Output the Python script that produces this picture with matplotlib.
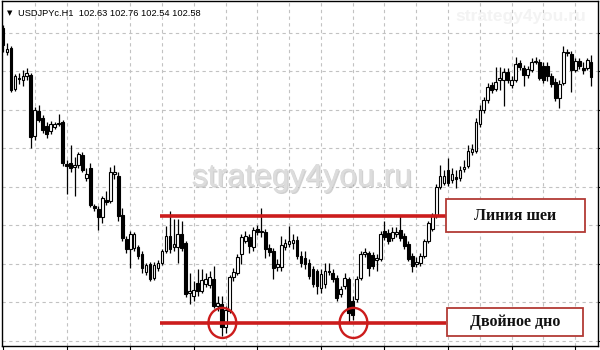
import matplotlib
matplotlib.use("Agg")
import matplotlib.pyplot as plt
import matplotlib.patches as mpatches
import matplotlib.patheffects as pe
import numpy as np

# ---------------- data (USDJPYc, H1) ----------------
opens = [102.860, 102.740, 102.760, 102.555, 102.610, 102.600, 102.620, 102.625, 102.320, 102.445,
         102.410, 102.370, 102.345, 102.365, 102.380, 102.390, 102.180, 102.185, 102.165, 102.175,
         102.225, 102.115, 102.160, 101.975, 101.960, 101.920, 102.005, 102.000, 102.135, 102.125,
         101.930, 101.810, 101.760, 101.765, 101.770, 101.735, 101.645, 101.685, 101.615, 101.665,
         101.690, 101.750, 101.825, 101.770, 101.770, 101.835, 101.790, 101.540, 101.525, 101.590,
         101.550, 101.585, 101.580, 101.610, 101.475, 101.485, 101.370, 101.450, 101.620, 101.640,
         101.735, 101.800, 101.820, 101.770, 101.860, 101.845, 101.845, 101.765, 101.750, 101.670,
         101.670, 101.770, 101.785, 101.790, 101.805, 101.725, 101.715, 101.690, 101.660, 101.650,
         101.565, 101.585, 101.650, 101.640, 101.615, 101.535, 101.575, 101.610, 101.500, 101.510,
         101.615, 101.735, 101.740, 101.730, 101.705, 101.710, 101.850, 101.840, 101.815, 101.835,
         101.855, 101.825, 101.785, 101.725, 101.685, 101.690, 101.725, 101.800, 101.860, 101.925,
         102.070, 102.090, 102.150, 102.105, 102.120, 102.115, 102.155, 102.170, 102.240, 102.245,
         102.380, 102.450, 102.500, 102.575, 102.555, 102.600, 102.600, 102.640, 102.575, 102.600,
         102.685, 102.660, 102.625, 102.650, 102.690, 102.690, 102.670, 102.670, 102.620, 102.590,
         102.510, 102.585, 102.740, 102.730, 102.650, 102.695, 102.660, 102.660, 102.690]

highs = [102.875, 102.785, 102.770, 102.630, 102.635, 102.650, 102.660, 102.635, 102.465, 102.475,
         102.425, 102.390, 102.395, 102.390, 102.430, 102.400, 102.200, 102.275, 102.215, 102.240,
         102.240, 102.160, 102.185, 101.985, 101.975, 102.025, 102.050, 102.165, 102.175, 102.140,
         101.965, 101.825, 101.850, 101.845, 101.780, 101.750, 101.690, 101.695, 101.695, 101.705,
         101.760, 101.875, 101.950, 101.910, 101.910, 101.900, 101.800, 101.640, 101.600, 101.660,
         101.660, 101.640, 101.650, 101.675, 101.525, 101.525, 101.475, 101.630, 101.665, 101.735,
         101.835, 101.850, 101.835, 101.870, 101.880, 101.965, 101.860, 101.785, 101.765, 101.710,
         101.825, 101.810, 101.875, 101.835, 101.825, 101.750, 101.750, 101.710, 101.675, 101.660,
         101.660, 101.690, 101.690, 101.660, 101.630, 101.575, 101.640, 101.620, 101.525, 101.625,
         101.750, 101.765, 101.750, 101.745, 101.735, 101.850, 101.900, 101.860, 101.870, 101.870,
         101.925, 101.840, 101.800, 101.740, 101.720, 101.740, 101.810, 101.900, 101.940, 102.085,
         102.175, 102.150, 102.210, 102.160, 102.150, 102.170, 102.200, 102.275, 102.280, 102.410,
         102.475, 102.515, 102.585, 102.590, 102.665, 102.665, 102.660, 102.660, 102.620, 102.715,
         102.700, 102.675, 102.670, 102.710, 102.715, 102.705, 102.690, 102.690, 102.635, 102.610,
         102.600, 102.770, 102.755, 102.745, 102.710, 102.710, 102.690, 102.710, 102.725]

lows = [102.740, 102.725, 102.540, 102.545, 102.580, 102.570, 102.600, 102.260, 102.300, 102.390,
        102.335, 102.310, 102.330, 102.355, 102.370, 102.170, 102.035, 102.140, 102.025, 102.160,
        102.140, 102.100, 101.970, 101.950, 101.855, 101.890, 101.980, 101.990, 102.110, 101.900,
        101.800, 101.740, 101.665, 101.750, 101.710, 101.640, 101.630, 101.600, 101.605, 101.650,
        101.680, 101.740, 101.740, 101.750, 101.690, 101.750, 101.520, 101.485, 101.500, 101.525,
        101.540, 101.570, 101.565, 101.465, 101.450, 101.325, 101.340, 101.440, 101.600, 101.630,
        101.685, 101.790, 101.740, 101.750, 101.830, 101.820, 101.715, 101.725, 101.610, 101.650,
        101.650, 101.755, 101.770, 101.760, 101.710, 101.670, 101.660, 101.610, 101.570, 101.535,
        101.540, 101.565, 101.630, 101.595, 101.500, 101.520, 101.560, 101.390, 101.405, 101.495,
        101.605, 101.720, 101.625, 101.660, 101.650, 101.700, 101.805, 101.785, 101.800, 101.820,
        101.800, 101.760, 101.700, 101.645, 101.670, 101.675, 101.715, 101.790, 101.850, 101.915,
        102.060, 102.080, 102.075, 102.090, 102.065, 102.100, 102.140, 102.160, 102.225, 102.235,
        102.365, 102.435, 102.485, 102.535, 102.545, 102.550, 102.470, 102.585, 102.560, 102.590,
        102.650, 102.570, 102.610, 102.640, 102.680, 102.600, 102.585, 102.595, 102.565, 102.495,
        102.460, 102.575, 102.720, 102.540, 102.640, 102.655, 102.630, 102.650, 102.570]

closes = [102.775, 102.755, 102.550, 102.620, 102.605, 102.620, 102.635, 102.315, 102.450, 102.400,
          102.350, 102.330, 102.380, 102.380, 102.385, 102.185, 102.170, 102.160, 102.175, 102.230,
          102.150, 102.135, 101.980, 101.965, 101.920, 102.015, 101.995, 102.140, 102.140, 101.925,
          101.815, 101.760, 101.835, 101.835, 101.725, 101.665, 101.680, 101.610, 101.680, 101.690,
          101.750, 101.825, 101.760, 101.785, 101.835, 101.765, 101.535, 101.550, 101.555, 101.550,
          101.605, 101.610, 101.620, 101.475, 101.490, 101.370, 101.455, 101.620, 101.645, 101.720,
          101.820, 101.825, 101.775, 101.855, 101.845, 101.850, 101.760, 101.745, 101.665, 101.685,
          101.780, 101.790, 101.800, 101.805, 101.725, 101.690, 101.685, 101.625, 101.585, 101.575,
          101.635, 101.650, 101.645, 101.610, 101.515, 101.560, 101.615, 101.440, 101.430, 101.610,
          101.735, 101.745, 101.665, 101.675, 101.715, 101.835, 101.820, 101.800, 101.845, 101.845,
          101.815, 101.775, 101.710, 101.675, 101.695, 101.725, 101.800, 101.890, 101.925, 102.070,
          102.125, 102.125, 102.090, 102.135, 102.110, 102.150, 102.165, 102.245, 102.255, 102.390,
          102.450, 102.500, 102.565, 102.550, 102.590, 102.610, 102.640, 102.600, 102.600, 102.680,
          102.665, 102.625, 102.655, 102.690, 102.695, 102.610, 102.600, 102.620, 102.580, 102.510,
          102.580, 102.740, 102.735, 102.650, 102.695, 102.670, 102.650, 102.700, 102.615]

symbol = "USDJPYc.H1"
quote = ["102.63", "102.76", "102.54", "102.58"]

neck_level = 101.925
bottom_level = 101.39
bottom_bars = [55.2, 88.2]          # bar positions of the two lows (circled)
neck_label = "Линия шеи"
bottom_label = "Двойное дно"
watermark = "strategy4you.ru"

grid_prices = [102.8375, 102.645, 102.453, 102.261, 102.068, 101.876, 101.684, 101.492, 101.2995]

# ---------------- figure ----------------
W, H = 600, 350
fig = plt.figure(figsize=(6, 3.5), dpi=100)
fig.patch.set_facecolor("white")


def fx(px):
    return px / W


def fy(py):
    return 1 - py / H


ax = fig.add_axes([fx(2), fy(346), fx(597.5) - fx(2), fy(1) - fy(346)])
ax.set_facecolor("white")

n = len(opens)
x = np.arange(n)
o = np.array(opens)
c = np.array(closes)
hi = np.array(highs)
lo = np.array(lows)

# grid
for gp in grid_prices:
    ax.axhline(gp, color="#c2c2c2", lw=0.8, ls=(0, (3, 3)), zorder=0)
for gx in range(8, n + 1, 8):
    ax.axvline(gx, color="#c2c2c2", lw=0.8, ls=(0, (3, 3)), zorder=0)

# candles
ax.vlines(x, lo, hi, color="black", lw=0.9, zorder=2)
bull = c >= o
body_bottom = np.minimum(o, c)
body_h = np.abs(c - o)
ax.bar(x[bull], body_h[bull], bottom=body_bottom[bull], width=0.68,
       color="white", edgecolor="black", linewidth=0.8, zorder=3)
ax.bar(x[~bull], body_h[~bull], bottom=body_bottom[~bull], width=0.68,
       color="black", edgecolor="black", linewidth=0.8, zorder=3)

ax.set_xlim(-0.25, 149.6)
ax.set_ylim(101.275, 102.995)

red = "#cc1c1c"
# neckline and bottom line
ax.hlines([neck_level, bottom_level], 39.5, 111.6, color=red, lw=2.6, zorder=5)
for bx in bottom_bars:
    ax.add_patch(mpatches.Ellipse((bx, bottom_level), width=7.0, height=0.15,
                                  fill=False, edgecolor=red, lw=1.7, zorder=6))

# axes styling
ax.set_yticks(grid_prices)
ax.set_xticks(np.arange(0, n, 16))
ax.tick_params(axis="x", direction="out", length=4, width=0.8, labelbottom=False)
ax.tick_params(axis="y", direction="out", length=4, width=0.8, left=False, right=True,
               labelleft=False, labelright=False)
for s in ax.spines.values():
    s.set_color("black")
    s.set_linewidth(1.0)

# watermark
fig.text(fx(302), fy(178), watermark, ha="center", va="center", fontsize=23,
         family="Liberation Sans", color="#dcdcdc", zorder=1,
         path_effects=[pe.withSimplePatchShadow(offset=(1, -1), shadow_rgbFace="#9a9a9a", alpha=0.45),
                       pe.Normal()])
fig.text(fx(521), fy(16), watermark, ha="center", va="center", fontsize=12.5,
         family="Liberation Sans", weight="bold", color="#f3f3f3", zorder=1)

# symbol header
fig.text(fx(7), fy(13), "▼", ha="left", va="center", fontsize=5, family="DejaVu Sans", color="black")
fig.text(fx(18), fy(13), symbol + "  " + " ".join(quote), ha="left", va="center",
         fontsize=6.7, family="Liberation Sans", color="black")

# label boxes
def label_box(x0, y0, x1, y1, text):
    r = mpatches.Rectangle((fx(x0), fy(y1)), fx(x1) - fx(x0), fy(y0) - fy(y1),
                           transform=fig.transFigure, facecolor="white",
                           edgecolor="#b23a35", lw=1.3, zorder=10)
    fig.add_artist(r)
    fig.text(fx((x0 + x1) / 2), fy((y0 + y1) / 2), text, ha="center", va="center",
             fontsize=11.5, weight="bold", family="Liberation Serif", color="#111111", zorder=11)


label_box(446, 199, 585, 232, neck_label)
label_box(447, 308, 583, 336, bottom_label)

fig.savefig("out.png", dpi=100)
